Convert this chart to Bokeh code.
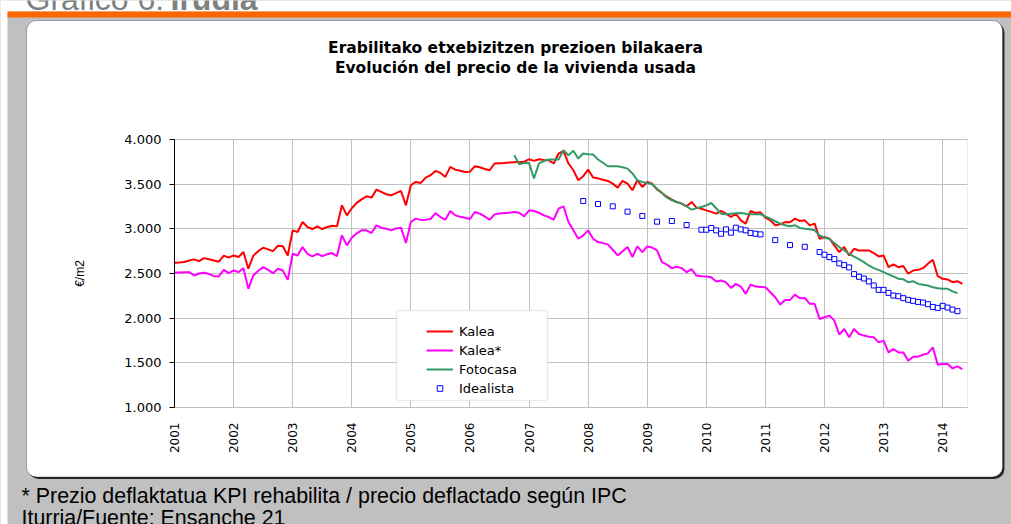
import math
from bokeh.plotting import figure
from bokeh.models import (Range1d, FixedTicker, BoxAnnotation, Label, Legend, LegendItem,
                          ColumnDataSource, Grid)
from bokeh.embed import file_html
from bokeh.resources import INLINE

# ---------------- data ----------------
HEADER_1 = "Gráfico 6: "
HEADER_2 = "Irudia"
TITLE_EU = "Erabilitako etxebizitzen prezioen bilakaera"
TITLE_ES = "Evolución del precio de la vivienda usada"
Y_LABEL = "€/m2"
NOTE_1 = "* Prezio deflaktatua KPI rehabilita / precio deflactado según IPC"
NOTE_2 = "Iturria/Fuente: Ensanche 21"

years = list(range(2001, 2015))
year_labels = [str(y) for y in years]
y_ticks = [1000, 1500, 2000, 2500, 3000, 3500, 4000]
y_tick_labels = ["1.000", "1.500", "2.000", "2.500", "3.000", "3.500", "4.000"]

series_names = ["Kalea", "Kalea*", "Fotocasa", "Idealista"]
series_colors = ["#ff0000", "#ff00ff", "#339966", "#0000ff"]

start_year = 2001  # monthly series start in January 2001

kalea = [
    2620, 2622, 2628, 2645, 2658, 2638, 2672, 2660, 2645, 2632, 2700, 2678,  # 2001
    2702, 2684, 2740, 2553, 2700, 2750, 2788, 2770, 2751, 2810, 2805, 2702,  # 2002
    2983, 2964, 3076, 3020, 2998, 3028, 2998, 3020, 3035, 3028, 3263, 3151,  # 2003
    3230, 3290, 3330, 3364, 3349, 3439, 3413, 3387, 3375, 3400, 3424, 3263,  # 2004
    3488, 3525, 3514, 3574, 3600, 3648, 3626, 3581, 3693, 3663, 3650, 3637,  # 2005
    3640, 3701, 3690, 3670, 3656, 3731, 3735, 3738, 3742, 3746, 3748, 3749,  # 2006
    3779, 3761, 3779, 3770, 3768, 3731, 3843, 3873, 3731, 3656, 3544, 3589,  # 2007
    3663, 3574, 3565, 3550, 3536, 3506, 3461, 3536, 3506, 3432, 3544, 3469,  # 2008
    3525, 3506, 3440, 3402, 3360, 3327, 3300, 3282, 3252, 3301, 3237, 3225,  # 2009
    3207, 3190, 3170, 3200, 3170, 3132, 3170, 3095, 3058, 3200, 3177, 3185,  # 2010
    3125, 3095, 3040, 3050, 3076, 3073, 3114, 3088, 3095, 3039, 3058, 2889,  # 2011
    2908, 2889, 2815, 2740, 2796, 2702, 2777, 2758, 2758, 2758, 2729, 2691,  # 2012
    2702, 2571, 2601, 2571, 2583, 2497, 2534, 2541, 2560, 2610, 2654, 2470,  # 2013
    2440, 2433, 2403, 2414, 2384,                                            # 2014
]

kalea_deflated = [
    2512, 2512, 2514, 2515, 2478, 2500, 2508, 2495, 2470, 2467, 2541, 2504,  # 2001
    2534, 2515, 2560, 2328, 2478, 2530, 2571, 2540, 2504, 2553, 2534, 2429,  # 2002
    2721, 2702, 2796, 2720, 2691, 2721, 2695, 2715, 2729, 2695, 2927, 2815,  # 2003
    2900, 2950, 2983, 2983, 2953, 3039, 3013, 3000, 2983, 3005, 3013, 2841,  # 2004
    3076, 3114, 3100, 3102, 3110, 3177, 3132, 3102, 3200, 3151, 3135, 3125,  # 2005
    3110, 3189, 3170, 3140, 3102, 3162, 3172, 3177, 3180, 3189, 3180, 3140,  # 2006
    3207, 3200, 3180, 3151, 3132, 3102, 3226, 3252, 3076, 2983, 2889, 2927,  # 2007
    2983, 2889, 2852, 2840, 2826, 2766, 2702, 2750, 2796, 2684, 2803, 2740,  # 2008
    2803, 2790, 2758, 2627, 2600, 2560, 2575, 2560, 2515, 2549, 2477, 2470,  # 2009
    2466, 2459, 2410, 2421, 2400, 2339, 2384, 2354, 2272, 2376, 2354, 2350,  # 2010
    2347, 2290, 2234, 2152, 2204, 2204, 2264, 2223, 2227, 2160, 2160, 1991,  # 2011
    2010, 2029, 1973, 1815, 1879, 1786, 1879, 1823, 1805, 1793, 1786, 1729,  # 2012
    1748, 1617, 1655, 1617, 1617, 1524, 1569, 1569, 1590, 1606, 1673, 1479,  # 2013
    1486, 1486, 1438, 1460, 1430,                                            # 2014
]

fotocasa_first_month = 69  # October 2006
fotocasa = [
    3824, 3723, 3738,                                                        # 2006
    3738, 3563, 3731, 3760, 3776, 3776, 3776, 3880, 3824, 3873, 3787, 3843,  # 2007
    3836, 3832, 3776, 3740, 3701, 3701, 3701, 3690, 3674, 3620, 3544, 3525,  # 2008
    3514, 3499, 3450, 3400, 3349, 3320, 3301, 3282, 3250, 3215, 3230, 3245,  # 2009
    3263, 3289, 3230, 3170, 3162, 3170, 3175, 3177, 3170, 3162, 3162, 3162,  # 2010
    3140, 3114, 3085, 3058, 3040, 3028, 3039, 3010, 3002, 2995, 2983, 2927,  # 2011
    2900, 2889, 2840, 2796, 2760, 2721, 2690, 2660, 2627, 2590, 2560, 2540,  # 2012
    2515, 2490, 2467, 2441, 2435, 2403, 2414, 2384, 2375, 2366, 2345, 2336,  # 2013
    2330, 2328, 2300, 2280,                                                  # 2014
]

idealista_month = [83, 86, 89, 92, 95, 98, 101, 104,
                   107, 108, 109, 110, 111, 112, 113, 114, 115, 116, 117, 118, 119,
                   122, 125, 128,
                   131, 132, 133, 134, 135, 136, 137, 138, 139, 140, 141, 142, 143,
                   144, 145, 146, 147, 148, 149, 150, 151, 152, 153, 154, 155,
                   156, 157, 158, 159]
idealista = [3312, 3278, 3252, 3192, 3144, 3080, 3088, 3043,
             2990, 2990, 3009, 2983, 2945, 2994, 2957, 3013, 2994, 2983, 2953, 2945, 2938,
             2874, 2818, 2799,
             2740, 2710, 2684, 2661, 2613, 2594, 2568, 2493, 2463, 2444, 2411, 2366, 2317,
             2317, 2283, 2253, 2246, 2224, 2205, 2194, 2182, 2175, 2156, 2126, 2115,
             2138, 2119, 2096, 2078]


def month_to_year(m):
    return start_year + m / 12.0


# ---------------- layout ----------------
W, H = 1011, 524
X0, X1 = 2001.0, 2014.42          # visible x extent of the plot area
Y0, Y1 = 1000.0, 4000.0           # visible y extent of the plot area
PX0, PX1, PY0, PY1 = 174, 967, 407, 139   # plot area edges (canvas px)

GRAY = "#c0c0c0"
ORANGE = "#ff6600"


def dx(px):
    """canvas x pixel -> data x"""
    return X0 + (px - PX0) * (X1 - X0) / (PX1 - PX0)


def dy(py):
    """canvas y pixel -> data y"""
    return Y0 + (PY0 - py) * (Y1 - Y0) / (PY0 - PY1)


p = figure(width=W, height=H, x_range=Range1d(dx(0), dx(W)), y_range=Range1d(dy(H), dy(0)),
           output_backend="svg", toolbar_location=None,
           min_border=0)
p.background_fill_color = GRAY
p.border_fill_color = GRAY
p.outline_line_color = None


# ---------------- background decorations ----------------
def box(l, t, r, b, level="image", **kw):
    kw.setdefault("fill_alpha", 1)
    kw.setdefault("line_color", None)
    ba = BoxAnnotation(left=dx(l), right=dx(r), top=dy(t), bottom=dy(b), level=level, **kw)
    p.add_layout(ba)
    return ba


PL, PT, PR, PB = 26, 20, 1002, 476.5   # white rounded panel
box(0, 0, W, 11, fill_color="white")
box(0, 0, 7, H, fill_color="white")
box(7, 11, W, 17, fill_color=ORANGE)
box(PL + 2, PT + 2, PR + 2, PB + 2, fill_color="#2a2a2a", border_radius=10)
box(PL, PT, PR, PB, fill_color="white", line_color="black", line_width=1, border_radius=10)

# ---------------- axes (drawn at the plot-area edges) ----------------
p.xaxis.fixed_location = Y0
p.xaxis.bounds = (X0, X1)
p.xaxis.ticker = FixedTicker(ticks=years)
p.xaxis.major_label_overrides = {y: lab for y, lab in zip(years, year_labels)}
p.xaxis.major_label_orientation = math.pi / 2
p.xaxis.major_label_text_font = "DejaVu Sans"
p.xaxis.major_label_text_font_size = "12px"
p.xaxis.major_label_text_color = "black"
p.xaxis.major_label_standoff = 9
p.xaxis.axis_line_color = GRAY
p.xaxis.major_tick_line_color = None
p.xaxis.minor_tick_line_color = None

p.yaxis.fixed_location = X0
p.yaxis.bounds = (Y0, Y1)
p.yaxis.ticker = FixedTicker(ticks=y_ticks)
p.yaxis.major_label_overrides = {v: lab for v, lab in zip(y_ticks, y_tick_labels)}
p.yaxis.major_label_text_font = "DejaVu Sans"
p.yaxis.major_label_text_font_size = "13px"
p.yaxis.major_label_text_color = "black"
p.yaxis.major_label_standoff = 8
p.yaxis.axis_line_color = "black"
p.yaxis.major_tick_line_color = "black"
p.yaxis.major_tick_out = 5
p.yaxis.major_tick_in = 0
p.yaxis.minor_tick_line_color = None
p.yaxis.axis_label = Y_LABEL
p.yaxis.axis_label_text_font = "Liberation Sans"
p.yaxis.axis_label_text_font_style = "normal"
p.yaxis.axis_label_text_font_size = "12px"
p.yaxis.axis_label_text_color = "black"
p.yaxis.axis_label_standoff = 34

# grid limited to the plot area
if "cross_bounds" in Grid.properties():
    p.xgrid.cross_bounds = (Y0, Y1)
    p.ygrid.cross_bounds = (X0, X1)
    p.xgrid.grid_line_color = GRAY
    p.ygrid.grid_line_color = GRAY
else:
    p.xgrid.visible = False
    p.ygrid.visible = False
    p.segment(x0=years, y0=[Y0] * len(years), x1=years, y1=[Y1] * len(years),
              line_color=GRAY, line_width=1, level="underlay")
    p.segment(x0=[X0] * len(y_ticks), y0=y_ticks, x1=[X1] * len(y_ticks), y1=y_ticks,
              line_color=GRAY, line_width=1, level="underlay")

# plot-area outline
p.add_layout(BoxAnnotation(left=X0, right=X1, bottom=Y0, top=Y1, fill_color=None, fill_alpha=0,
                           line_color=GRAY, line_width=1, level="underlay"))

# ---------------- series ----------------
src_k = ColumnDataSource(dict(x=[month_to_year(m) for m in range(len(kalea))], y=kalea))
src_kd = ColumnDataSource(dict(x=[month_to_year(m) for m in range(len(kalea_deflated))], y=kalea_deflated))
src_f = ColumnDataSource(dict(x=[month_to_year(fotocasa_first_month + i) for i in range(len(fotocasa))], y=fotocasa))
src_i = ColumnDataSource(dict(x=[month_to_year(m) for m in idealista_month], y=idealista))

r_k = p.line("x", "y", source=src_k, line_color=series_colors[0], line_width=2)
r_kd = p.line("x", "y", source=src_kd, line_color=series_colors[1], line_width=2)
r_f = p.line("x", "y", source=src_f, line_color=series_colors[2], line_width=2)
r_i = p.scatter("x", "y", source=src_i, marker="square", size=5,
                line_color=series_colors[3], fill_color="white", line_width=1)

# ---------------- legend ----------------
box(396, 310, 547, 400, level="annotation", fill_color="white", line_color=GRAY, line_width=1.5)

legend = Legend(items=[LegendItem(label=series_names[0], renderers=[r_k]),
                       LegendItem(label=series_names[1], renderers=[r_kd]),
                       LegendItem(label=series_names[2], renderers=[r_f]),
                       LegendItem(label=series_names[3], renderers=[r_i])],
                location=(426, 128.3))
legend.padding = 0
legend.margin = 0
legend.spacing = 4
legend.glyph_width = 27
legend.glyph_height = 14
legend.label_height = 14
legend.label_standoff = 6
legend.label_text_font = "DejaVu Sans"
legend.label_text_font_size = "13px"
legend.label_text_color = "black"
legend.border_line_color = None
legend.background_fill_alpha = 0
p.add_layout(legend)


# ---------------- texts ----------------
def text(px, py, s, size, font="DejaVu Sans", style="normal", align="left",
         baseline="alphabetic", color="black"):
    lab = Label(x=dx(px), y=dy(py), text=s, text_font=font, text_font_size=size,
                text_font_style=style, text_align=align, text_baseline=baseline,
                text_color=color)
    p.add_layout(lab)
    return lab


text(25, -2, HEADER_1, "32px", font="Liberation Sans", color="#808080")
text(170, -2, HEADER_2, "32px", font="Liberation Sans", style="bold", color="#808080")
text(515, 47.5, TITLE_EU, "15.5px", style="bold", align="center")
text(515, 67.5, TITLE_ES, "15.5px", style="bold", align="center")
text(21, 495, NOTE_1, "21.4px", font="Liberation Sans")
text(21, 517, NOTE_2, "21.4px", font="Liberation Sans")

open("out.html", "w").write(file_html(p, INLINE))
